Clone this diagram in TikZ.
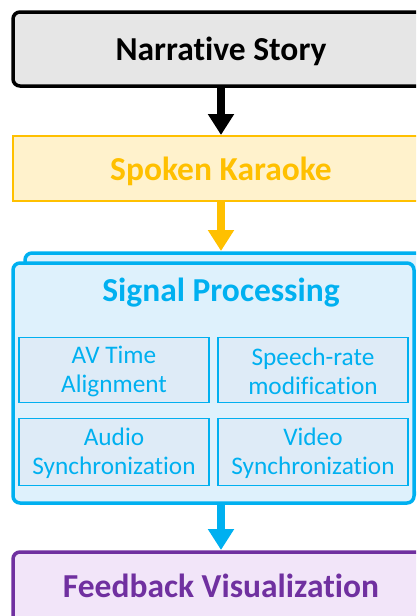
\documentclass[tikz,border=0pt]{standalone}
\usepackage{fontspec}
\setmainfont{Carlito}[Ligatures=NoCommon]
\usetikzlibrary{arrows.meta}
\definecolor{cblack}{HTML}{000000}
\definecolor{cgrayfill}{HTML}{E6E6E6}
\definecolor{cgold}{HTML}{FFC000}
\definecolor{cgoldfill}{HTML}{FFF2CC}
\definecolor{cblue}{HTML}{00B0F0}
\definecolor{cbluefill}{HTML}{DEF1FC}
\definecolor{csubfill}{HTML}{DEEBF7}
\definecolor{cpurple}{HTML}{7030A0}
\definecolor{cpurplefill}{HTML}{F2E5F9}
\tikzset{
  x=1pt,y=1pt,
  bigbox/.style={rounded corners=7pt, line width=3.5pt},
  subbox/.style={draw=cblue, line width=1.2pt, fill=csubfill},
  bigarrow/.style={line width=8pt, -{Triangle[width=25pt,length=21pt]}},
  titletext/.style={font=\bfseries\fontsize{33.5}{38}\selectfont},
  subtext/.style={font=\fontsize{25.3}{29}\selectfont, text=cblue, align=center},
}
\begin{document}
\begin{tikzpicture}
\useasboundingbox (0,0) rectangle (416,-616);
\clip (0,0) rectangle (416,-616);
% Narrative Story
\draw[bigbox, draw=cblack, fill=cgrayfill] (13,-12) rectangle (450,-86);
\node[titletext, text=black] (ns) at (221,-51) {Narrative Story};
\coordinate (nsb) at (221,-86);
% Spoken Karaoke
\draw[bigbox, rounded corners=0pt, draw=cgold, fill=cgoldfill, line width=2.5pt] (13,-136) rectangle (450,-201);
\node[titletext, text=cgold] (sk) at (221,-171) {Spoken Karaoke};
\coordinate (skt) at (221,-135);
\coordinate (skb) at (221,-202);
% Signal Processing (stacked)
\draw[bigbox, draw=cblue, fill=cbluefill] (25,-253) rectangle (460,-493);
\draw[bigbox, draw=cblue, fill=cbluefill] (13,-263) rectangle (414,-503);
\node[titletext, text=cblue] (sp) at (221,-293) {Signal Processing};
\coordinate (spt) at (221,-251);
\coordinate (spb) at (221,-504);
% sub boxes
\node[subbox, minimum width=190pt, minimum height=65pt, inner sep=0pt] (av) at (114,-370) {};
\node[subtext] at ([yshift=-1.5pt]av.center) {AV Time\\Alignment};
\node[subbox, minimum width=190pt, minimum height=65pt, inner sep=0pt] (sr) at (313,-370) {};
\node[subtext] at ([yshift=-1.5pt]sr.center) {Speech-rate\\modification};
\node[subbox, minimum width=190pt, minimum height=67pt, inner sep=0pt] (as) at (114,-452) {};
\node[subtext] at ([yshift=-1.5pt]as.center) {Audio\\Synchronization};
\node[subbox, minimum width=190pt, minimum height=67pt, inner sep=0pt] (vs) at (313,-452) {};
\node[subtext] at ([yshift=-1.5pt]vs.center) {Video\\Synchronization};
% Feedback Visualization
\draw[bigbox, draw=cpurple, fill=cpurplefill] (13,-552) rectangle (450,-650);
\node[titletext, text=cpurple] (fv) at (221,-586) {Feedback Visualization};
\coordinate (fvt) at (221,-550);
% arrows
\draw[bigarrow, cblack] (nsb) -- (skt);
\draw[bigarrow, cgold] (skb) -- (spt);
\draw[bigarrow, cblue] (spb) -- (fvt);
\end{tikzpicture}
\end{document}
